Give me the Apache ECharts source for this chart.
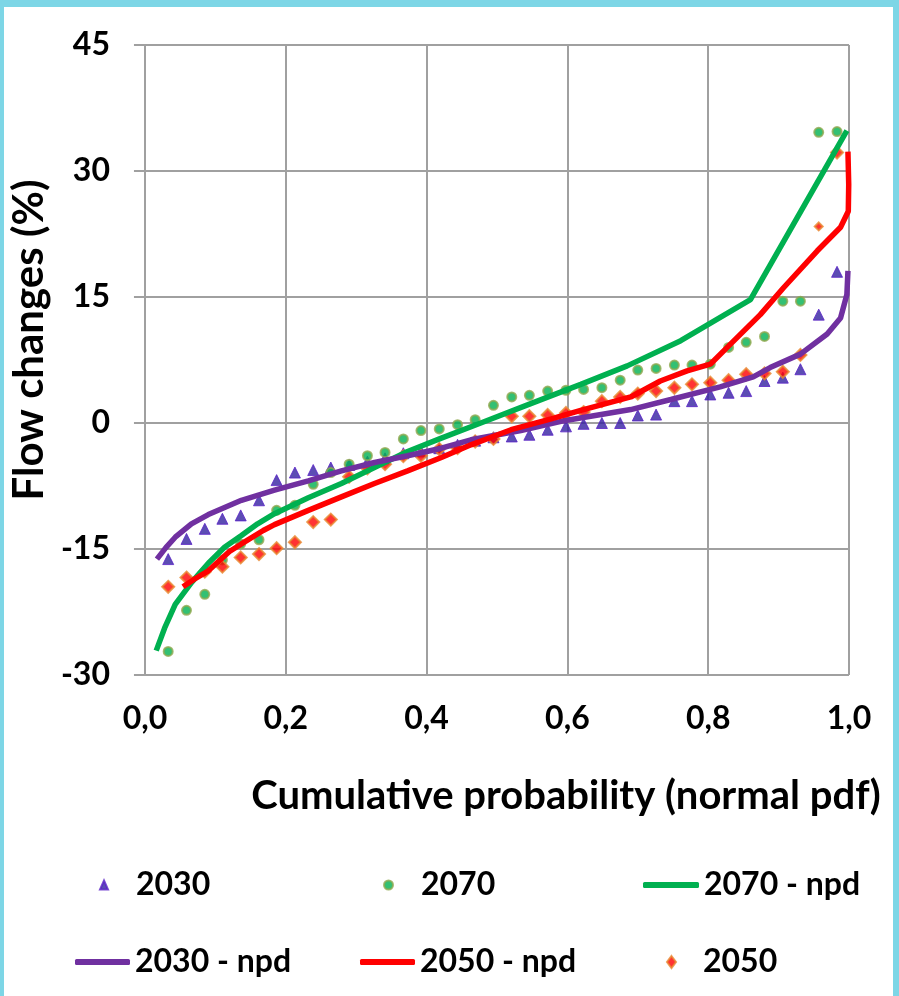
<!DOCTYPE html>
<html>
<head>
<meta charset="utf-8">
<script src="https://cdn.jsdelivr.net/npm/echarts@6/dist/echarts.min.js"></script>
<style>
  html, body { margin: 0; padding: 0; background: #fff; }
  #chart { width: 899px; height: 996px; }
</style>
</head>
<body>
<div id="chart"></div>
<script>
// 横轴刻度 / 纵轴刻度
const xTicks = [0, 0.2, 0.4, 0.6, 0.8, 1.0];
const yTicks = [-30, -15, 0, 15, 30, 45];

// 散点的累积概率位置
const probs = [0.033, 0.059, 0.085, 0.110, 0.136, 0.162, 0.187, 0.213, 0.239, 0.264,
    0.290, 0.316, 0.341, 0.367, 0.392, 0.418, 0.444, 0.469, 0.495, 0.521,
    0.546, 0.572, 0.598, 0.623, 0.649, 0.675, 0.700, 0.726, 0.752, 0.777,
    0.803, 0.829, 0.854, 0.880, 0.906, 0.931, 0.957, 0.983];

const y2030 = [-16.2, -13.8, -12.6, -11.4, -11.0, -9.2, -6.8, -5.9, -5.6, -5.3,
    -5.0, -4.6, -4.2, -3.6, -3.4, -3.0, -2.6, -2.1, -1.7, -1.6,
    -1.4, -0.8, -0.4, -0.1, 0.0, 0.0, 0.9, 1.0, 2.6, 2.6,
    3.4, 3.6, 3.8, 5.0, 5.4, 6.4, 12.9, 18.0];

const y2070 = [-27.2, -22.3, -20.4, -16.3, -14.4, -13.9, -10.4, -9.8, -7.3, -5.9,
    -4.9, -3.9, -3.5, -1.9, -0.9, -0.7, -0.2, 0.4, 2.1, 3.1,
    3.3, 3.8, 3.9, 4.0, 4.2, 5.1, 6.3, 6.5, 6.9, 6.9,
    7.0, 9.0, 9.6, 10.3, 14.5, 14.5, 34.6, 34.7];

const y2050 = [-19.5, -18.4, -17.7, -17.1, -16.0, -15.6, -14.9, -14.2, -11.8, -11.5,
    -6.4, -5.4, -4.9, -3.95, -3.9, -3.1, -3.0, -2.2, -1.9, 0.8,
    0.8, 0.95, 1.2, 1.3, 2.6, 3.1, 3.5, 3.8, 4.2, 4.6,
    4.8, 5.1, 5.8, 5.9, 6.1, 8.1, 23.4, 32.2];

// 正态分布拟合曲线 (npd)
const npd2070X = [0.016, 0.028, 0.043, 0.066, 0.090, 0.113, 0.137, 0.160, 0.184, 0.232,
    0.279, 0.326, 0.373, 0.421, 0.477, 0.548, 0.619, 0.685, 0.761, 0.860, 0.997];
const npd2070Y = [-27.1, -24.4, -21.6, -19.0, -16.7, -14.8, -13.4, -12.0, -10.8, -8.9,
    -7.2, -5.3, -3.4, -1.8, 0.0, 2.3, 4.6, 6.8, 9.8, 14.7, 34.8];

const npd2030X = [0.017, 0.030, 0.043, 0.066, 0.090, 0.137, 0.184, 0.232, 0.279, 0.326,
    0.373, 0.421, 0.463, 0.534, 0.591, 0.690, 0.747, 0.817, 0.864, 0.888,
    0.931, 0.969, 0.988, 0.997, 0.9985];
const npd2030Y = [-16.2, -14.8, -13.6, -12.0, -10.9, -9.2, -8.0, -6.9, -5.7, -4.7,
    -3.9, -3.0, -2.0, -0.9, 0.2, 1.6, 2.8, 4.3, 5.5, 6.6,
    8.2, 10.6, 12.5, 15.3, 18.1];

const npd2050X = [0.054, 0.070, 0.090, 0.120, 0.137, 0.168, 0.184, 0.232, 0.279, 0.326,
    0.373, 0.421, 0.463, 0.520, 0.577, 0.619, 0.690, 0.732, 0.770, 0.803,
    0.827, 0.874, 0.907, 0.955, 0.988, 0.9990, 0.9996, 0.9985];
const npd2050Y = [-19.5, -18.6, -17.6, -15.3, -14.4, -12.8, -12.1, -10.4, -8.8, -7.2,
    -5.7, -4.1, -2.6, -0.8, 0.5, 1.5, 3.1, 5.0, 6.2, 7.0,
    9.0, 12.9, 16.1, 20.5, 23.3, 25.2, 28.4, 32.3];

const zip = (xs, ys) => xs.map((x, i) => [x, ys[i]]);

const FONT = 'Lato';
const GRID = '#a0a0a0';
const FRAME = '#7dd6e6';
const LINE_W = 5.5;

const chart = echarts.init(document.getElementById('chart'), null, {renderer: 'canvas'});

// 每个图例单独放，位置跟原图对齐
const legendItem = (name, icon, left, top, w, h, textPad) => ({
    data: [{name: name, icon: icon}],
    left: left,
    top: top,
    padding: 0,
    itemWidth: w,
    itemHeight: h,
    selectedMode: false,
    textStyle: {
        fontFamily: FONT, fontWeight: 'bold', fontSize: 32, color: '#000',
        padding: [0, 0, 0, textPad]
    }
});

chart.setOption({
    animation: false,
    backgroundColor: '#fff',
    grid: {left: 143, right: 50, top: 45, bottom: 321},
    graphic: [
        {type: 'rect', shape: {x: 0, y: 0, width: 899, height: 7}, style: {fill: FRAME}},
        {type: 'rect', shape: {x: 0, y: 0, width: 4, height: 996}, style: {fill: FRAME}},
        {type: 'rect', shape: {x: 893, y: 0, width: 6, height: 996}, style: {fill: FRAME}}
    ],
    legend: [
        legendItem('2030', 'triangle', 99, 869, 8, 9, 23),
        legendItem('2070', 'circle', 383, 869, 9, 9, 23),
        legendItem('2070 - npd', 'roundRect', 643, 869, 56, 6, 0),
        legendItem('2030 - npd', 'roundRect', 75, 946, 55, 6, 0),
        legendItem('2050 - npd', 'roundRect', 360, 946, 55, 6, 0),
        legendItem('2050', 'diamond', 666, 946, 9, 12, 22)
    ],
    xAxis: {
        type: 'value',
        min: xTicks[0],
        max: xTicks[xTicks.length - 1],
        interval: 0.2,
        name: 'Cumulative probability (normal pdf)',
        nameLocation: 'middle',
        nameGap: 101,
        nameTextStyle: {fontFamily: FONT, fontWeight: 'bold', fontSize: 40, color: '#000', padding: [0, 0, 0, 138]},
        axisLine: {lineStyle: {color: GRID, width: 2}},
        axisTick: {show: true, length: 11, lineStyle: {color: GRID, width: 2}},
        splitLine: {show: true, lineStyle: {color: GRID, width: 2}},
        axisLabel: {
            margin: 28,
            fontFamily: FONT, fontWeight: 'bold', fontSize: 32, color: '#000',
            formatter: v => v.toFixed(1).replace('.', ',')
        }
    },
    yAxis: {
        type: 'value',
        min: yTicks[0],
        max: yTicks[yTicks.length - 1],
        interval: 15,
        name: 'Flow changes (%)',
        nameLocation: 'middle',
        nameGap: 66,
        nameTextStyle: {fontFamily: FONT, fontWeight: 'bold', fontSize: 42, color: '#000', padding: [0, 0, 0, 40]},
        axisLine: {show: true, lineStyle: {color: GRID, width: 2}},
        axisTick: {show: true, length: 11, lineStyle: {color: GRID, width: 2}},
        splitLine: {show: true, lineStyle: {color: GRID, width: 2}},
        axisLabel: {
            margin: 35,
            fontFamily: FONT, fontWeight: 'bold', fontSize: 32, color: '#000'
        }
    },
    series: [
        {
            name: '2030',
            type: 'scatter',
            symbol: 'triangle',
            symbolSize: 11,
            itemStyle: {color: '#3320a0', borderColor: '#5a22c8', borderWidth: 1},
            data: zip(probs, y2030)
        },
        {
            name: '2070',
            type: 'scatter',
            symbol: 'circle',
            symbolSize: 9,
            itemStyle: {color: '#00b050', borderColor: '#8fa94f', borderWidth: 2},
            data: zip(probs, y2070)
        },
        {
            name: '2070 - npd',
            type: 'line',
            symbol: 'none',
            lineStyle: {color: '#00b050', width: LINE_W},
            itemStyle: {color: '#00b050'},
            data: zip(npd2070X, npd2070Y)
        },
        {
            name: '2030 - npd',
            type: 'line',
            symbol: 'none',
            lineStyle: {color: '#7030a0', width: LINE_W},
            itemStyle: {color: '#7030a0'},
            data: zip(npd2030X, npd2030Y)
        },
        {
            name: '2050 - npd',
            type: 'line',
            symbol: 'none',
            lineStyle: {color: '#ff0000', width: LINE_W},
            itemStyle: {color: '#ff0000'},
            data: zip(npd2050X, npd2050Y)
        },
        {
            name: '2050',
            type: 'scatter',
            symbol: 'diamond',
            symbolSize: (v, p) => (p.dataIndex === 36 ? 8 : 12),
            itemStyle: {color: '#ff0000', borderColor: '#e8872e', borderWidth: 2},
            data: zip(probs, y2050)
        }
    ]
});
</script>
</body>
</html>
